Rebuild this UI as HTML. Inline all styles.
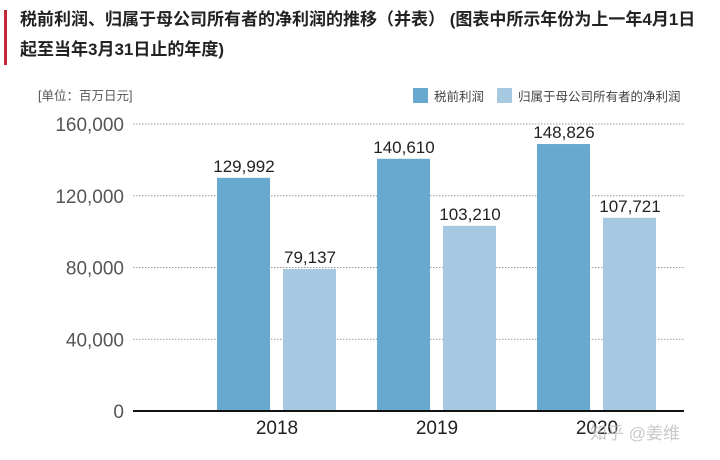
<!DOCTYPE html>
<html><head><meta charset="utf-8"><style>
body{margin:0;width:720px;height:460px;background:#fff;overflow:hidden;font-family:"Liberation Sans","Noto Sans CJK SC",sans-serif}
.title{position:absolute;left:20px;top:5px;font-size:17px;font-weight:bold;line-height:30px;color:#222;width:700px;white-space:nowrap}
.redbar{position:absolute;left:4px;top:10px;width:3px;height:55px;background:#c0283a}
</style></head><body>
<div class="redbar"></div>
<div class="title">税前利润、归属于母公司所有者的净利润的推移（并表） (图表中所示年份为上一年4月1日<br>起至当年3月31日止的年度)</div>
<svg id="c" width="720" height="460" style="position:absolute;left:0;top:0"></svg>
<script>
const categories=["2018","2019","2020"];
const pretax=[129992,140610,148826];
const netProfit=[79137,103210,107721];
const ticks=[0,40000,80000,120000,160000];
const tickLabels=["0","40,000","80,000","120,000","160,000"];
const svg=document.getElementById('c');const NS="http://www.w3.org/2000/svg";
function el(t,a,txt){const e=document.createElementNS(NS,t);for(const k in a)e.setAttribute(k,a[k]);if(txt!==undefined)e.textContent=txt;svg.appendChild(e);return e;}
const y0=411,ppu=287/160000;
const y=v=>y0-v*ppu;
const xc=i=>277+i*160;
const fmt=v=>v.toLocaleString('en-US');
let t=el('text',{x:38,y:100,'font-size':12.5,fill:'#555'},'[单位：百万日元]');


ticks.forEach((v,i)=>{
 if(v>0){const g=el('line',{x1:133,x2:684,y1:y(v),y2:y(v),stroke:'#999','stroke-dasharray':'1.5 1.5','stroke-width':1});
 
 }
 const l=el('text',{x:124,y:y(v)+7,'text-anchor':'end','font-size':19,fill:'#555'},tickLabels[i]);
 
 
});
categories.forEach((c,i)=>{
 const b1=el('rect',{x:xc(i)-60,y:y(pretax[i]),width:53,height:pretax[i]*ppu,fill:'#68a9cf'});
 
 
 const b2=el('rect',{x:xc(i)+6,y:y(netProfit[i]),width:53,height:netProfit[i]*ppu,fill:'#a6c8e1'});
 
 
 const l1=el('text',{x:xc(i)-33,y:y(pretax[i])-6,'text-anchor':'middle','font-size':17,fill:'#222'},fmt(pretax[i]));
 
 
 const l2=el('text',{x:xc(i)+33,y:y(netProfit[i])-6,'text-anchor':'middle','font-size':17,fill:'#222'},fmt(netProfit[i]));
 
 
 const xl=el('text',{x:xc(i),y:434,'text-anchor':'middle','font-size':19,fill:'#222'},c);
 
 
});
const ax=el('line',{x1:133,x2:684,y1:y0,y2:y0,stroke:'#111','stroke-width':2});


const s1=el('rect',{x:413,y:88,width:15,height:15,fill:'#68a9cf'});


const t1=el('text',{x:434,y:101,'font-size':12.5,fill:'#444'},'税前利润');


const s2=el('rect',{x:497,y:88,width:15,height:15,fill:'#a6c8e1'});


const t2=el('text',{x:518,y:101,'font-size':12.5,fill:'#444'},'归属于母公司所有者的净利润');


const wm=el('text',{x:590,y:439,'font-size':17,fill:'#bbb','fill-opacity':0.8},'知乎 @姜维');


</script>
</body></html>
